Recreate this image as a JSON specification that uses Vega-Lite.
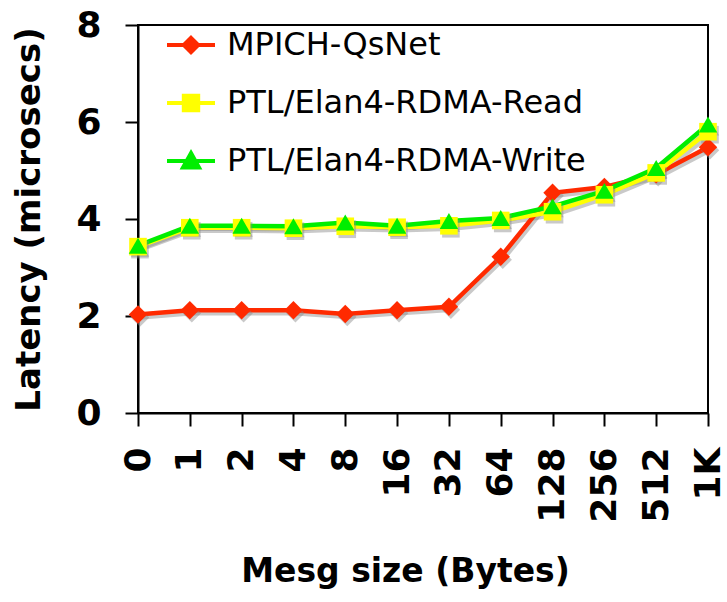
{
  "$schema": "https://vega.github.io/schema/vega-lite/v6.json",
  "autosize": "none",
  "width": 570,
  "height": 388,
  "padding": {"left": 138, "top": 25, "right": 19, "bottom": 189},
  "background": "white",
  "config": {
    "view": {"stroke": "black", "strokeWidth": 2},
    "font": "DejaVu Sans"
  },
  "data": {
    "values": [
      {"size": "0", "series": "MPICH-QsNet", "latency": 2.03},
      {"size": "1", "series": "MPICH-QsNet", "latency": 2.12},
      {"size": "2", "series": "MPICH-QsNet", "latency": 2.12},
      {"size": "4", "series": "MPICH-QsNet", "latency": 2.12},
      {"size": "8", "series": "MPICH-QsNet", "latency": 2.04},
      {"size": "16", "series": "MPICH-QsNet", "latency": 2.12},
      {"size": "32", "series": "MPICH-QsNet", "latency": 2.19},
      {"size": "64", "series": "MPICH-QsNet", "latency": 3.22},
      {"size": "128", "series": "MPICH-QsNet", "latency": 4.54},
      {"size": "256", "series": "MPICH-QsNet", "latency": 4.66},
      {"size": "512", "series": "MPICH-QsNet", "latency": 4.92},
      {"size": "1K", "series": "MPICH-QsNet", "latency": 5.48},
      {"size": "0", "series": "PTL/Elan4-RDMA-Read", "latency": 3.43},
      {"size": "1", "series": "PTL/Elan4-RDMA-Read", "latency": 3.82},
      {"size": "2", "series": "PTL/Elan4-RDMA-Read", "latency": 3.82},
      {"size": "4", "series": "PTL/Elan4-RDMA-Read", "latency": 3.81},
      {"size": "8", "series": "PTL/Elan4-RDMA-Read", "latency": 3.85},
      {"size": "16", "series": "PTL/Elan4-RDMA-Read", "latency": 3.83},
      {"size": "32", "series": "PTL/Elan4-RDMA-Read", "latency": 3.86},
      {"size": "64", "series": "PTL/Elan4-RDMA-Read", "latency": 3.97},
      {"size": "128", "series": "PTL/Elan4-RDMA-Read", "latency": 4.15},
      {"size": "256", "series": "PTL/Elan4-RDMA-Read", "latency": 4.5},
      {"size": "512", "series": "PTL/Elan4-RDMA-Read", "latency": 4.95},
      {"size": "1K", "series": "PTL/Elan4-RDMA-Read", "latency": 5.8},
      {"size": "0", "series": "PTL/Elan4-RDMA-Write", "latency": 3.45},
      {"size": "1", "series": "PTL/Elan4-RDMA-Write", "latency": 3.86},
      {"size": "2", "series": "PTL/Elan4-RDMA-Write", "latency": 3.86},
      {"size": "4", "series": "PTL/Elan4-RDMA-Write", "latency": 3.85},
      {"size": "8", "series": "PTL/Elan4-RDMA-Write", "latency": 3.93},
      {"size": "16", "series": "PTL/Elan4-RDMA-Write", "latency": 3.86},
      {"size": "32", "series": "PTL/Elan4-RDMA-Write", "latency": 3.96},
      {"size": "64", "series": "PTL/Elan4-RDMA-Write", "latency": 4.02},
      {"size": "128", "series": "PTL/Elan4-RDMA-Write", "latency": 4.26},
      {"size": "256", "series": "PTL/Elan4-RDMA-Write", "latency": 4.58},
      {"size": "512", "series": "PTL/Elan4-RDMA-Write", "latency": 5.05},
      {"size": "1K", "series": "PTL/Elan4-RDMA-Write", "latency": 5.95}
    ]
  },
  "encoding": {
    "x": {
      "field": "size", "type": "ordinal", "sort": null,
      "scale": {"type": "point", "padding": 0},
      "axis": {
        "title": "Mesg size (Bytes)",
        "titleFontSize": 33, "titleFontWeight": "bold", "titleColor": "black", "titlePadding": 33, "titleX": 267,
        "labelAngle": 270, "labelAlign": "right", "labelBaseline": "middle",
        "labelFontSize": 36, "labelFontWeight": "bold", "labelColor": "black", "labelPadding": 21,
        "labelOverlap": false, "labelFlush": false,
        "domainColor": "black", "domainWidth": 2, "tickColor": "black", "tickWidth": 2, "tickSize": 13,
        "grid": false
      }
    },
    "y": {
      "field": "latency", "type": "quantitative",
      "scale": {"domain": [0, 8], "nice": false, "zero": true},
      "axis": {
        "title": "Latency (microsecs)",
        "titleFontSize": 34, "titleFontWeight": "bold", "titleColor": "black", "titlePadding": 29,
        "values": [0, 2, 4, 6, 8],
        "labelFontSize": 36, "labelFontWeight": "bold", "labelColor": "black", "labelPadding": 24,
        "domainColor": "black", "domainWidth": 2, "tickColor": "black", "tickWidth": 2, "tickSize": 13,
        "grid": false
      }
    },
    "color": {
      "field": "series", "type": "nominal",
      "scale": {
        "domain": ["MPICH-QsNet", "PTL/Elan4-RDMA-Read", "PTL/Elan4-RDMA-Write"],
        "range": ["#ff2a00", "#ffff00", "#00ee00"]
      },
      "legend": {
        "orient": "none", "legendX": 35, "legendY": 2, "title": null,
        "labelFont": "DejaVu Sans", "labelFontSize": 32, "labelColor": "black", "labelLimit": 600,
        "symbolSize": 1024, "symbolStrokeWidth": 4, "labelOffset": 18, "rowPadding": 24,
        "symbolOpacity": 1,
        "padding": 0,
        "encode": {
          "symbols": {
            "update": {
              "shape": {"signal": "datum.value === 'MPICH-QsNet' ? 'M-1.5,0H1.5M0,-0.45L0.45,0L0,0.45L-0.45,0Z' : datum.value === 'PTL/Elan4-RDMA-Read' ? 'M-1.5,0H1.5M-0.45,-0.45H0.45V0.45H-0.45Z' : 'M-1.5,0H1.5M0,-0.5L0.5,0.4L-0.5,0.4Z'"},
              "stroke": {"scale": "color", "field": "value"},
              "fill": {"scale": "color", "field": "value"},
              "strokeWidth": {"value": 4},
              "opacity": {"value": 1}
            }
          }
        }
      }
    }
  },
  "layer": [
    {
      "mark": {"type": "line", "strokeWidth": 4.5, "xOffset": 2, "yOffset": 3, "opacity": 0.45},
      "encoding": {"color": {"value": "#888888"}, "detail": {"field": "series"}}
    },
    {
      "mark": {"type": "line", "strokeWidth": 4.5}
    },
    {
      "transform": [{"filter": "datum.series === 'MPICH-QsNet'"}],
      "mark": {"type": "point", "shape": "diamond", "filled": true, "size": 340, "xOffset": 2, "yOffset": 3, "opacity": 0.45},
      "encoding": {"color": {"value": "#888888"}}
    },
    {
      "transform": [{"filter": "datum.series === 'PTL/Elan4-RDMA-Read'"}],
      "mark": {"type": "point", "shape": "square", "filled": true, "size": 310, "xOffset": 2, "yOffset": 3, "opacity": 0.45},
      "encoding": {"color": {"value": "#888888"}}
    },
    {
      "transform": [{"filter": "datum.series === 'PTL/Elan4-RDMA-Write'"}],
      "mark": {"type": "point", "shape": "triangle-up", "filled": true, "size": 340, "xOffset": 2, "yOffset": 3, "opacity": 0.45},
      "encoding": {"color": {"value": "#888888"}}
    },
    {
      "transform": [{"filter": "datum.series === 'MPICH-QsNet'"}],
      "mark": {"type": "point", "shape": "diamond", "filled": true, "size": 340, "opacity": 1}
    },
    {
      "transform": [{"filter": "datum.series === 'PTL/Elan4-RDMA-Read'"}],
      "mark": {"type": "point", "shape": "square", "filled": true, "size": 310, "opacity": 1}
    },
    {
      "transform": [{"filter": "datum.series === 'PTL/Elan4-RDMA-Write'"}],
      "mark": {"type": "point", "shape": "triangle-up", "filled": true, "size": 340, "opacity": 1}
    }
  ]
}
